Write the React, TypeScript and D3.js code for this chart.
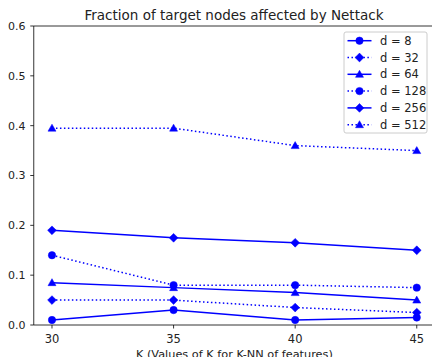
import React from "react";
import * as d3 from "d3";

const kValues = [30, 35, 40, 45];
const yTicks = [0, 0.1, 0.2, 0.3, 0.4, 0.5, 0.6];
const seriesNames = ["d = 8", "d = 32", "d = 64", "d = 128", "d = 256", "d = 512"];
const d8 = [0.01, 0.03, 0.01, 0.015];
const d32 = [0.05, 0.05, 0.035, 0.025];
const d64 = [0.085, 0.075, 0.065, 0.05];
const d128 = [0.14, 0.08, 0.08, 0.075];
const d256 = [0.19, 0.175, 0.165, 0.15];
const d512 = [0.395, 0.395, 0.36, 0.35];
const seriesValues = [d8, d32, d64, d128, d256, d512];
const markers = ["circle", "diamond", "triangle", "circle", "diamond", "triangle"];
const dotted = [false, true, false, true, false, true];

const W = 432, H = 357;
const left = 33.75, right = 435, top = 26, bottom = 325;
const color = "#0000ff";
const font = "DejaVu Sans, sans-serif";

function Marker({ type, x, y }: { type: string; x: number; y: number }) {
  if (type === "circle") return <circle cx={x} cy={y} r={3.7} fill={color} stroke={color} strokeWidth={0.5} />;
  if (type === "diamond") {
    const s = 4.4;
    return <path d={`M${x},${y - s}L${x + s},${y}L${x},${y + s}L${x - s},${y}Z`} fill={color} stroke={color} strokeWidth={0.5} />;
  }
  const s = 4;
  return <path d={`M${x},${y - s}L${x + s},${y + s * 0.75}L${x - s},${y + s * 0.75}Z`} fill={color} stroke={color} strokeWidth={0.5} />;
}

export default function App() {
  const x = d3.scaleLinear().domain([29.25, 45.75]).range([left, right]);
  const y = d3.scaleLinear().domain([0, 0.6]).range([bottom, top]);
  const line = d3.line<number>().x((_, i) => x(kValues[i])).y((v) => y(v));

  const legX = 344, legY = 32, legW = 83, legH = 101;
  const rowH = 16.8;

  return (
    <svg width={W} height={H} style={{ position: "absolute", left: 0, top: 0, fontFamily: font }}>
      <rect width={W} height={H} fill="white" />
      {seriesValues.map((vals, si) => (
        <g key={si}>
          <path d={line(vals) || ""} fill="none" stroke={color} strokeWidth={1.5}
            strokeDasharray={dotted[si] ? "1.5,2.475" : undefined} />
          {vals.map((v, i) => <Marker key={i} type={markers[si]} x={x(kValues[i])} y={y(v)} />)}
        </g>
      ))}
      {/* spines */}
      <line x1={left} y1={top} x2={left} y2={bottom} stroke="black" strokeWidth={0.8} />
      <line x1={left} y1={bottom} x2={right} y2={bottom} stroke="black" strokeWidth={0.8} />
      <line x1={left} y1={top} x2={right} y2={top} stroke="black" strokeWidth={0.8} />
      {yTicks.map((t) => (
        <g key={t}>
          <line x1={left - 3.5} x2={left} y1={y(t)} y2={y(t)} stroke="black" strokeWidth={0.8} />
          <text x={25.5} y={y(t)} dy="0.36em" textAnchor="end" fontSize={11} fill="#222">{t.toFixed(1)}</text>
        </g>
      ))}
      {kValues.map((k) => (
        <g key={k}>
          <line x1={x(k)} x2={x(k)} y1={bottom} y2={bottom + 3.5} stroke="black" strokeWidth={0.8} />
          <text x={x(k)} y={343} textAnchor="middle" fontSize={11.5} fill="#222">{k}</text>
        </g>
      ))}
      <text x={(left + right) / 2} y={357.5} textAnchor="middle" fontSize={11.3} fill="#222">K (Values of K for K-NN of features)</text>
      <text x={234} y={19.5} textAnchor="middle" fontSize={13.5} fill="#222">Fraction of target nodes affected by Nettack</text>
      {/* legend */}
      <rect x={legX} y={legY} width={legW} height={legH} rx={2} fill="white" fillOpacity={0.8} stroke="#cccccc" strokeWidth={1} />
      {seriesNames.map((name, i) => {
        const cy = legY + 8.7 + i * rowH;
        return (
          <g key={name}>
            <line x1={347.5} x2={371.5} y1={cy} y2={cy} stroke={color} strokeWidth={1.5}
              strokeDasharray={dotted[i] ? "1.5,2.475" : undefined} />
            <Marker type={markers[i]} x={359.5} y={cy} />
            <text x={380} y={cy} dy="0.36em" fontSize={11.5} fill="#222">{name}</text>
          </g>
        );
      })}
    </svg>
  );
}
